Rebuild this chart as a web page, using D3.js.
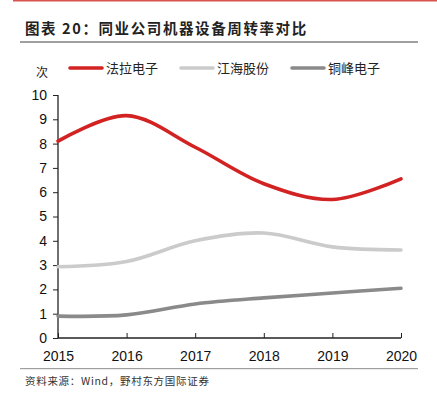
<!DOCTYPE html>
<html>
<head>
<meta charset="utf-8">
<script src="https://cdn.jsdelivr.net/npm/d3@7"></script>
<style>
  body { margin: 0; background: #fff; }
  text { font-family: "Liberation Sans", Arial, sans-serif; }
  .cjk { font-family: "Noto Sans CJK SC", sans-serif; }
</style>
</head>
<body>
<svg id="chart"></svg>
<script>
const years = [2015, 2016, 2017, 2018, 2019, 2020];
const yTicks = [0, 1, 2, 3, 4, 5, 6, 7, 8, 9, 10];
const faratronic = [8.1, 9.15, 7.85, 6.35, 5.7, 6.55];
const jianghai = [2.93, 3.15, 4.0, 4.32, 3.75, 3.62];
const tongfeng = [0.9, 0.95, 1.4, 1.65, 1.85, 2.05];

const seriesNames = ["法拉电子", "江海股份", "铜峰电子"];
const seriesColors = ["#d22222", "#cbcbcb", "#8a8a8a"];
const seriesData = [faratronic, jianghai, tongfeng];

const size = { width: 437, height: 399 };
const plot = { left: 58, right: 401, top: 95, bottom: 338 };

const svg = d3.select("#chart")
  .attr("width", size.width)
  .attr("height", size.height);

// top red rule, title and grey rules
svg.append("rect").attr("x", 13).attr("y", 0).attr("width", 137).attr("height", 1.5).attr("fill", "#d9534f");
svg.append("rect").attr("x", 150).attr("y", 0).attr("width", 287).attr("height", 1.5).attr("fill", "#d9534f");

svg.append("text")
  .attr("class", "cjk")
  .attr("x", 25).attr("y", 34)
  .attr("font-size", 14.5).attr("font-weight", "bold")
  .attr("letter-spacing", 1.6)
  .attr("fill", "#222")
  .text("图表 20：同业公司机器设备周转率对比");

svg.append("rect").attr("x", 20).attr("y", 41).attr("width", 398).attr("height", 2).attr("fill", "#a0a0a0");
svg.append("rect").attr("x", 20).attr("y", 368).attr("width", 398).attr("height", 1.2).attr("fill", "#a0a0a0");

svg.append("text")
  .attr("class", "cjk")
  .attr("x", 25).attr("y", 385)
  .attr("font-size", 10.5).attr("fill", "#333")
  .attr("letter-spacing", 0.7)
  .text("资料来源：Wind，野村东方国际证券");

const x = d3.scalePoint().domain(years).range([plot.left, plot.right]);
const y = d3.scaleLinear().domain([0, 10]).range([plot.bottom, plot.top]);

const g = svg.append("g");

const yAxis = g.append("g")
  .attr("transform", `translate(${plot.left},0)`)
  .call(d3.axisLeft(y).tickValues(yTicks).tickSize(5).tickPadding(6));

const xAxis = g.append("g")
  .attr("transform", `translate(0,${plot.bottom})`)
  .call(d3.axisBottom(x).tickSize(5).tickPadding(5));

[yAxis, xAxis].forEach(a => {
  a.select(".domain").attr("stroke", "#222").attr("stroke-width", 1.3);
  a.selectAll(".tick line").attr("stroke", "#222");
  a.selectAll(".tick text").attr("font-size", 14).attr("fill", "#111")
    .attr("font-family", "Liberation Sans, Arial, sans-serif");
});
xAxis.select(".domain").attr("d", `M${plot.left},0H${plot.right}`);
yAxis.select(".domain").attr("d", `M0,${plot.bottom}V${plot.top}`);
xAxis.selectAll(".tick line").attr("y1", -5).attr("y2", 0);
xAxis.selectAll(".tick text").attr("dy", "0.9em");

svg.append("text")
  .attr("class", "cjk")
  .attr("x", 42).attr("y", 77)
  .attr("text-anchor", "middle")
  .attr("font-size", 12).attr("fill", "#222")
  .text("次");

const line = d3.line()
  .x((d, i) => x(years[i]))
  .y(d => y(d))
  .curve(d3.curveCatmullRom.alpha(0.5));

seriesData.forEach((s, i) => {
  g.append("path")
    .datum(s)
    .attr("fill", "none")
    .attr("stroke", seriesColors[i])
    .attr("stroke-width", 3.6)
    .attr("stroke-linecap", "round")
    .attr("d", line);
});

// legend
const legendX = [70, 181, 292];
const legend = svg.append("g");
seriesNames.forEach((name, i) => {
  legend.append("line")
    .attr("x1", legendX[i]).attr("x2", legendX[i] + 32)
    .attr("y1", 68).attr("y2", 68)
    .attr("stroke", seriesColors[i]).attr("stroke-width", 3.6)
    .attr("stroke-linecap", "round");
  legend.append("text")
    .attr("class", "cjk")
    .attr("x", legendX[i] + 36).attr("y", 73)
    .attr("font-size", 13).attr("fill", "#222")
    .text(name);
});
</script>
</body>
</html>
